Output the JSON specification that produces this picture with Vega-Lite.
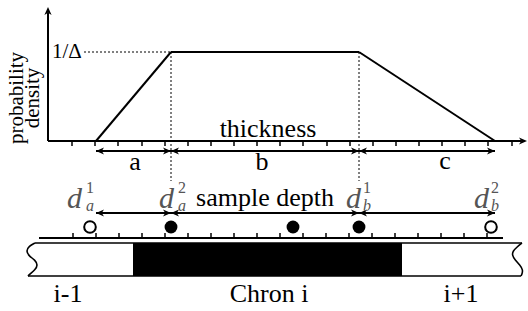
{
  "$schema": "https://vega.github.io/schema/vega-lite/v6.json",
  "width": 528,
  "height": 311,
  "autosize": {"type": "fit", "contains": "padding"},
  "padding": 0,
  "background": "white",
  "config": {"view": {"stroke": null}},
  "datasets": {
    "segs": [
      {"x": 48, "y": 141, "x2": 48, "y2": 13, "k": "line"},
      {"x": 48, "y": 141, "x2": 521, "y2": 141, "k": "line"},
      {"x": 96, "y": 141, "x2": 171, "y2": 52, "k": "line"},
      {"x": 171, "y": 52, "x2": 359, "y2": 52, "k": "line"},
      {"x": 359, "y": 52, "x2": 495, "y2": 141, "k": "line"},
      {"x": 96, "y": 151, "x2": 171, "y2": 151, "k": "line"},
      {"x": 171, "y": 151, "x2": 359, "y2": 151, "k": "line"},
      {"x": 359, "y": 151, "x2": 495, "y2": 151, "k": "line"},
      {"x": 96, "y": 213, "x2": 171, "y2": 213, "k": "line"},
      {"x": 171, "y": 213, "x2": 359, "y2": 213, "k": "line"},
      {"x": 359, "y": 213, "x2": 495, "y2": 213, "k": "line"},
      {"x": 39, "y": 238, "x2": 503, "y2": 238, "k": "line"},
      {"x": 35, "y": 243, "x2": 522, "y2": 243, "k": "thin"},
      {"x": 28, "y": 276, "x2": 521, "y2": 276, "k": "thin"},
      {"x": 84, "y": 52, "x2": 171, "y2": 52, "k": "dot"},
      {"x": 171, "y": 52, "x2": 171, "y2": 181, "k": "dot"},
      {"x": 359, "y": 52, "x2": 359, "y2": 181, "k": "dot"},
      {"x": 72, "y": 141, "x2": 72, "y2": 146, "k": "tick"},
      {"x": 95, "y": 141, "x2": 95, "y2": 146, "k": "tick"},
      {"x": 118, "y": 141, "x2": 118, "y2": 146, "k": "tick"},
      {"x": 142, "y": 141, "x2": 142, "y2": 146, "k": "tick"},
      {"x": 165, "y": 141, "x2": 165, "y2": 146, "k": "tick"},
      {"x": 188, "y": 141, "x2": 188, "y2": 146, "k": "tick"},
      {"x": 211, "y": 141, "x2": 211, "y2": 146, "k": "tick"},
      {"x": 234, "y": 141, "x2": 234, "y2": 146, "k": "tick"},
      {"x": 257, "y": 141, "x2": 257, "y2": 146, "k": "tick"},
      {"x": 280, "y": 141, "x2": 280, "y2": 146, "k": "tick"},
      {"x": 303, "y": 141, "x2": 303, "y2": 146, "k": "tick"},
      {"x": 327, "y": 141, "x2": 327, "y2": 146, "k": "tick"},
      {"x": 350, "y": 141, "x2": 350, "y2": 146, "k": "tick"},
      {"x": 373, "y": 141, "x2": 373, "y2": 146, "k": "tick"},
      {"x": 396, "y": 141, "x2": 396, "y2": 146, "k": "tick"},
      {"x": 419, "y": 141, "x2": 419, "y2": 146, "k": "tick"},
      {"x": 442, "y": 141, "x2": 442, "y2": 146, "k": "tick"},
      {"x": 465, "y": 141, "x2": 465, "y2": 146, "k": "tick"},
      {"x": 488, "y": 141, "x2": 488, "y2": 146, "k": "tick"},
      {"x": 512, "y": 141, "x2": 512, "y2": 146, "k": "tick"},
      {"x": 73, "y": 238, "x2": 73, "y2": 233, "k": "tick"},
      {"x": 96, "y": 238, "x2": 96, "y2": 233, "k": "tick"},
      {"x": 119, "y": 238, "x2": 119, "y2": 233, "k": "tick"},
      {"x": 142, "y": 238, "x2": 142, "y2": 233, "k": "tick"},
      {"x": 165, "y": 238, "x2": 165, "y2": 233, "k": "tick"},
      {"x": 188, "y": 238, "x2": 188, "y2": 233, "k": "tick"},
      {"x": 211, "y": 238, "x2": 211, "y2": 233, "k": "tick"},
      {"x": 234, "y": 238, "x2": 234, "y2": 233, "k": "tick"},
      {"x": 257, "y": 238, "x2": 257, "y2": 233, "k": "tick"},
      {"x": 280, "y": 238, "x2": 280, "y2": 233, "k": "tick"},
      {"x": 303, "y": 238, "x2": 303, "y2": 233, "k": "tick"},
      {"x": 326, "y": 238, "x2": 326, "y2": 233, "k": "tick"},
      {"x": 349, "y": 238, "x2": 349, "y2": 233, "k": "tick"},
      {"x": 372, "y": 238, "x2": 372, "y2": 233, "k": "tick"},
      {"x": 395, "y": 238, "x2": 395, "y2": 233, "k": "tick"},
      {"x": 418, "y": 238, "x2": 418, "y2": 233, "k": "tick"},
      {"x": 441, "y": 238, "x2": 441, "y2": 233, "k": "tick"},
      {"x": 464, "y": 238, "x2": 464, "y2": 233, "k": "tick"},
      {"x": 487, "y": 238, "x2": 487, "y2": 233, "k": "tick"}
    ],
    "chron": [{"x": 133, "x2": 402, "y": 243, "y2": 276, "name": "Chron i"}],
    "waves": [
      {"g": "left", "o": 1, "x": 35, "y": 243},
      {"g": "left", "o": 2, "x": 29, "y": 246},
      {"g": "left", "o": 3, "x": 26, "y": 251},
      {"g": "left", "o": 4, "x": 29, "y": 256},
      {"g": "left", "o": 5, "x": 35, "y": 260},
      {"g": "left", "o": 6, "x": 38, "y": 265},
      {"g": "left", "o": 7, "x": 35, "y": 270},
      {"g": "left", "o": 8, "x": 30, "y": 274},
      {"g": "left", "o": 9, "x": 28, "y": 276},
      {"g": "right", "o": 1, "x": 522, "y": 243},
      {"g": "right", "o": 2, "x": 517, "y": 247},
      {"g": "right", "o": 3, "x": 513, "y": 251},
      {"g": "right", "o": 4, "x": 512, "y": 255},
      {"g": "right", "o": 5, "x": 515, "y": 260},
      {"g": "right", "o": 6, "x": 520, "y": 265},
      {"g": "right", "o": 7, "x": 523, "y": 270},
      {"g": "right", "o": 8, "x": 522, "y": 274},
      {"g": "right", "o": 9, "x": 521, "y": 276}
    ],
    "heads": [
      {"x": 48, "y": 7, "dir": "up"},
      {"x": 527, "y": 141, "dir": "right"},
      {"x": 96, "y": 151, "dir": "left"},
      {"x": 171, "y": 151, "dir": "right"},
      {"x": 171, "y": 151, "dir": "left"},
      {"x": 359, "y": 151, "dir": "right"},
      {"x": 359, "y": 151, "dir": "left"},
      {"x": 495, "y": 151, "dir": "right"},
      {"x": 96, "y": 213, "dir": "left"},
      {"x": 171, "y": 213, "dir": "right"},
      {"x": 171, "y": 213, "dir": "left"},
      {"x": 359, "y": 213, "dir": "right"},
      {"x": 359, "y": 213, "dir": "left"},
      {"x": 495, "y": 213, "dir": "right"}
    ],
    "samples": [
      {"x": 90, "y": 227, "s": "open"},
      {"x": 171, "y": 227, "s": "filled"},
      {"x": 293, "y": 227, "s": "filled"},
      {"x": 359, "y": 227, "s": "filled"},
      {"x": 491, "y": 227, "s": "open"}
    ],
    "labels": [
      {"x": 268, "y": 137, "t": "thickness"},
      {"x": 135, "y": 170, "t": "a"},
      {"x": 262, "y": 170, "t": "b"},
      {"x": 445, "y": 169, "t": "c"},
      {"x": 265, "y": 206, "t": "sample depth"},
      {"x": 68, "y": 302, "t": "i-1"},
      {"x": 269, "y": 302, "t": "Chron i"},
      {"x": 461, "y": 302, "t": "i+1"}
    ],
    "ytitle": [
      {"x": 17, "y": 98, "t": "probability"},
      {"x": 33, "y": 98, "t": "density"}
    ],
    "level": [{"x": 52, "y": 58, "t": "1/Δ"}],
    "dsym": [
      {"x": 67, "y": 208, "t": "d"},
      {"x": 159, "y": 208, "t": "d"},
      {"x": 346, "y": 208, "t": "d"},
      {"x": 474, "y": 208, "t": "d"}
    ],
    "dsup": [
      {"x": 86, "y": 193, "t": "1"},
      {"x": 178, "y": 193, "t": "2"},
      {"x": 363, "y": 193, "t": "1"},
      {"x": 491, "y": 193, "t": "2"}
    ],
    "dsub": [
      {"x": 86, "y": 211, "t": "a"},
      {"x": 178, "y": 211, "t": "a"},
      {"x": 363, "y": 211, "t": "b"},
      {"x": 491, "y": 211, "t": "b"}
    ]
  },
  "encoding": {
    "x": {"field": "x", "type": "quantitative", "scale": {"domain": [0, 528], "nice": false, "zero": false}, "axis": null},
    "y": {"field": "y", "type": "quantitative", "scale": {"domain": [0, 311], "nice": false, "zero": false, "reverse": true}, "axis": null}
  },
  "layer": [
    {
      "data": {"name": "chron"},
      "mark": {"type": "rect", "color": "black"},
      "encoding": {"x2": {"field": "x2"}, "y2": {"field": "y2"}}
    },
    {
      "data": {"name": "segs"},
      "transform": [{"filter": "datum.k === 'line'"}],
      "mark": {"type": "rule", "color": "black", "strokeWidth": 2, "strokeCap": "butt"},
      "encoding": {"x2": {"field": "x2"}, "y2": {"field": "y2"}}
    },
    {
      "data": {"name": "segs"},
      "transform": [{"filter": "datum.k === 'thin'"}],
      "mark": {"type": "rule", "color": "black", "strokeWidth": 1.6, "strokeCap": "butt"},
      "encoding": {"x2": {"field": "x2"}, "y2": {"field": "y2"}}
    },
    {
      "data": {"name": "segs"},
      "transform": [{"filter": "datum.k === 'dot'"}],
      "mark": {"type": "rule", "color": "black", "strokeWidth": 1, "strokeDash": [2, 2], "strokeCap": "butt"},
      "encoding": {"x2": {"field": "x2"}, "y2": {"field": "y2"}}
    },
    {
      "data": {"name": "segs"},
      "transform": [{"filter": "datum.k === 'tick'"}],
      "mark": {"type": "rule", "color": "black", "strokeWidth": 1.5, "strokeCap": "butt"},
      "encoding": {"x2": {"field": "x2"}, "y2": {"field": "y2"}}
    },
    {
      "data": {"name": "waves"},
      "mark": {"type": "line", "color": "black", "strokeWidth": 1.6, "interpolate": "basis"},
      "encoding": {"detail": {"field": "g"}, "order": {"field": "o", "type": "quantitative"}}
    },
    {
      "data": {"name": "heads"},
      "mark": {"type": "point", "filled": true, "color": "black", "opacity": 1, "size": 256, "strokeWidth": 0},
      "encoding": {
        "shape": {
          "field": "dir", "type": "nominal", "legend": null,
          "scale": {
            "domain": ["right", "left", "up"],
            "range": ["M0,0L-1,-0.45L-0.72,0L-1,0.45Z", "M0,0L1,-0.45L0.72,0L1,0.45Z", "M0,0L-0.45,1L0,0.72L0.45,1Z"]
          }
        }
      }
    },
    {
      "data": {"name": "samples"},
      "transform": [{"filter": "datum.s === 'filled'"}],
      "mark": {"type": "point", "shape": "circle", "filled": true, "color": "black", "opacity": 1, "size": 165, "strokeWidth": 0}
    },
    {
      "data": {"name": "samples"},
      "transform": [{"filter": "datum.s === 'open'"}],
      "mark": {"type": "point", "shape": "circle", "filled": false, "color": "black", "fill": "white", "fillOpacity": 1, "opacity": 1, "size": 135, "strokeWidth": 2}
    },
    {
      "data": {"name": "labels"},
      "mark": {"type": "text", "font": "Liberation Serif", "fontSize": 26, "align": "center", "baseline": "alphabetic", "color": "black"},
      "encoding": {"text": {"field": "t"}}
    },
    {
      "data": {"name": "ytitle"},
      "mark": {"type": "text", "font": "Liberation Serif", "fontSize": 21, "align": "center", "baseline": "middle", "angle": 270, "color": "black"},
      "encoding": {"text": {"field": "t"}}
    },
    {
      "data": {"name": "level"},
      "mark": {"type": "text", "font": "Liberation Serif", "fontSize": 21, "align": "left", "baseline": "alphabetic", "color": "black"},
      "encoding": {"text": {"field": "t"}}
    },
    {
      "data": {"name": "dsym"},
      "mark": {"type": "text", "font": "Liberation Serif", "fontStyle": "italic", "fontSize": 30, "align": "left", "baseline": "alphabetic", "color": "#555555"},
      "encoding": {"text": {"field": "t"}}
    },
    {
      "data": {"name": "dsup"},
      "mark": {"type": "text", "font": "Liberation Serif", "fontSize": 16, "align": "left", "baseline": "alphabetic", "color": "#555555"},
      "encoding": {"text": {"field": "t"}}
    },
    {
      "data": {"name": "dsub"},
      "mark": {"type": "text", "font": "Liberation Serif", "fontStyle": "italic", "fontSize": 16, "align": "left", "baseline": "alphabetic", "color": "#555555"},
      "encoding": {"text": {"field": "t"}}
    }
  ]
}
